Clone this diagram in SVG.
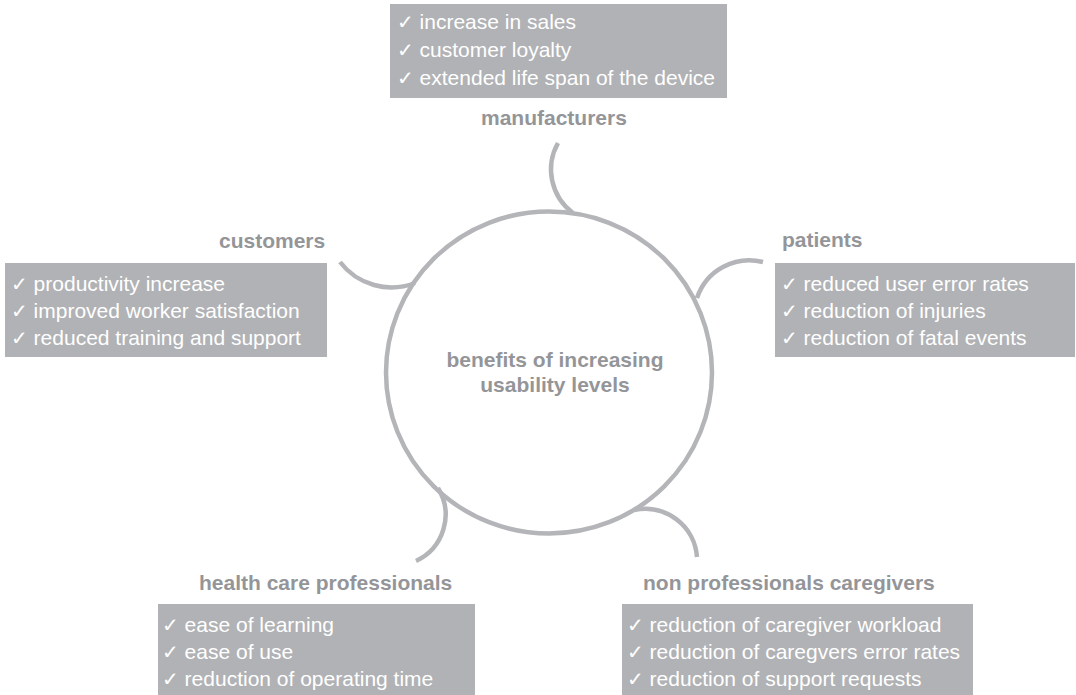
<svg xmlns="http://www.w3.org/2000/svg" width="1076" height="695" viewBox="0 0 1076 695">
<style>
.box{fill:#b1b2b5}
.li{font-family:"Liberation Sans",Arial,sans-serif;font-size:21px;fill:#ffffff}
.ck{font-family:"DejaVu Sans",sans-serif;font-size:20px}
.lab{font-family:"Liberation Sans",Arial,sans-serif;font-size:21px;font-weight:bold;fill:#949599}
.ln{fill:none;stroke:#b4b5b8;stroke-width:4.5}
</style>
<rect width="1076" height="695" fill="#ffffff"/>
<g id="connectors">
<path class="ln" d="M558,143 A54,54 0 0,0 573,213"/>
<path class="ln" d="M340,262 A65,65 0 0,0 415,283"/>
<path class="ln" d="M697,298 A55,55 0 0,1 763,262"/>
<path class="ln" d="M438,488 A51,51 0 0,1 416,561"/>
<path class="ln" d="M634,510 A52,52 0 0,1 697,557"/>
</g>
<g id="center">
<ellipse class="ln" cx="549" cy="372.5" rx="163" ry="161"/>
<text class="lab" x="555" y="367" font-size="20" text-anchor="middle">benefits of increasing</text>
<text class="lab" x="555" y="392" font-size="20" text-anchor="middle">usability levels</text>
</g>
<g id="manufacturers">
<rect class="box" x="390" y="4" width="337" height="94"/>
<text class="li" x="397" y="29"><tspan class="ck">✓</tspan> increase in sales</text>
<text class="li" x="397" y="57"><tspan class="ck">✓</tspan> customer loyalty</text>
<text class="li" x="397" y="85"><tspan class="ck">✓</tspan> extended life span of the device</text>
<text class="lab" x="481" y="125">manufacturers</text>
</g>
<g id="customers">
<text class="lab" x="219" y="248">customers</text>
<rect class="box" x="5" y="263" width="322" height="94"/>
<text class="li" x="11" y="291"><tspan class="ck">✓</tspan> productivity increase</text>
<text class="li" x="11" y="318"><tspan class="ck">✓</tspan> improved worker satisfaction</text>
<text class="li" x="11" y="345"><tspan class="ck">✓</tspan> reduced training and support</text>
</g>
<g id="patients">
<text class="lab" x="782" y="247">patients</text>
<rect class="box" x="775" y="263" width="300" height="94"/>
<text class="li" x="781" y="291"><tspan class="ck">✓</tspan> reduced user error rates</text>
<text class="li" x="781" y="318"><tspan class="ck">✓</tspan> reduction of injuries</text>
<text class="li" x="781" y="345"><tspan class="ck">✓</tspan> reduction of fatal events</text>
</g>
<g id="health-care-professionals">
<text class="lab" x="199" y="590">health care professionals</text>
<rect class="box" x="158" y="604" width="317" height="91"/>
<text class="li" x="162" y="632"><tspan class="ck">✓</tspan> ease of learning</text>
<text class="li" x="162" y="659"><tspan class="ck">✓</tspan> ease of use</text>
<text class="li" x="162" y="686"><tspan class="ck">✓</tspan> reduction of operating time</text>
</g>
<g id="non-professionals-caregivers">
<text class="lab" x="643" y="590">non professionals caregivers</text>
<rect class="box" x="622" y="604" width="351" height="91"/>
<text class="li" x="627" y="632"><tspan class="ck">✓</tspan> reduction of caregiver workload</text>
<text class="li" x="627" y="659"><tspan class="ck">✓</tspan> reduction of caregvers error rates</text>
<text class="li" x="627" y="686"><tspan class="ck">✓</tspan> reduction of support requests</text>
</g>
</svg>
